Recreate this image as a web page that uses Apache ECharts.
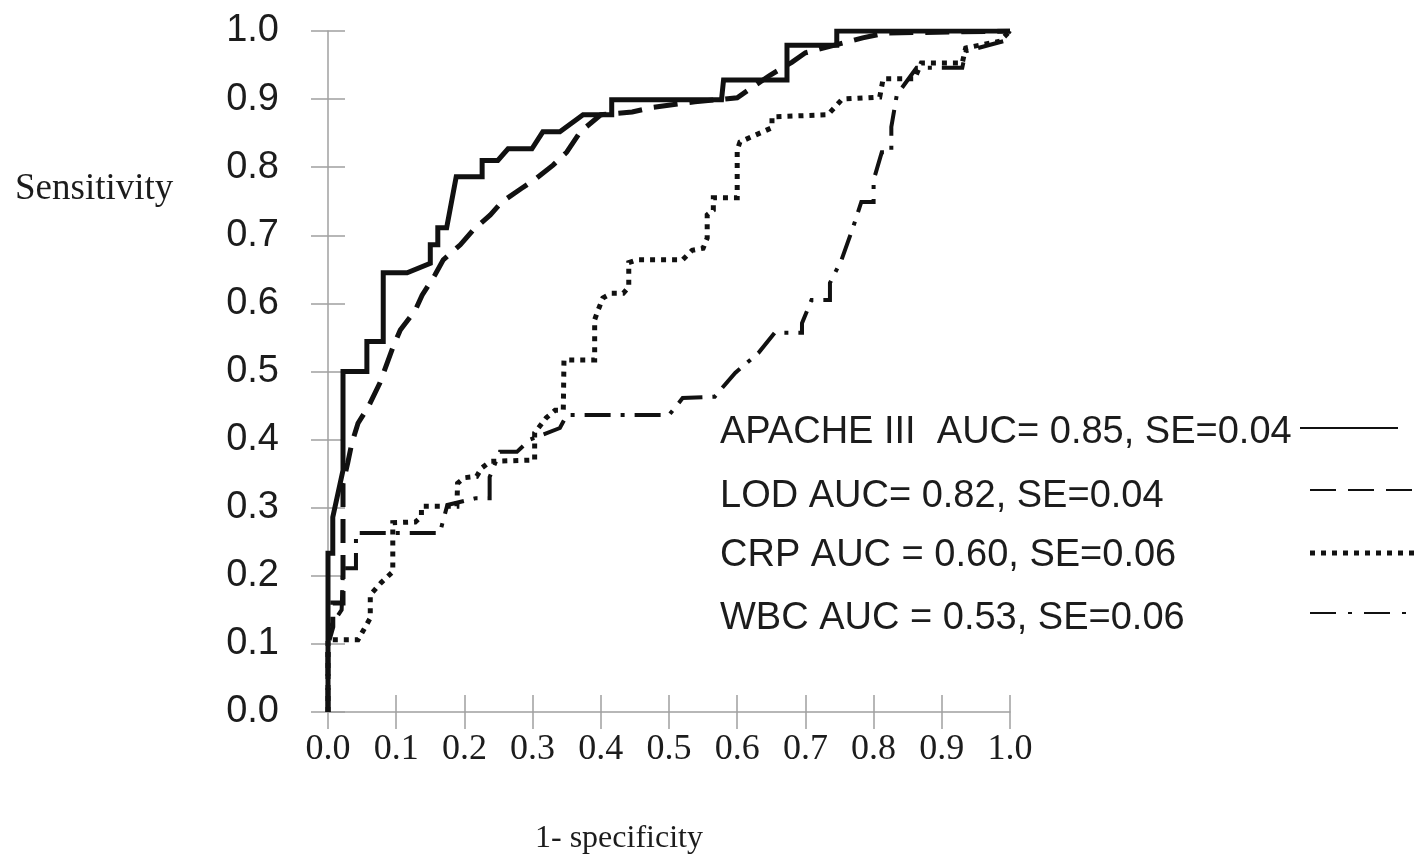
<!DOCTYPE html>
<html lang="en">
<head>
    <meta charset="UTF-8">
    <title>ROC curves</title>
    <script src="https://cdn.jsdelivr.net/npm/echarts@6/dist/echarts.min.js"></script>
    <style>
        html, body {margin: 0; padding: 0; background: #fff;}
        #chart {width: 1414px; height: 859px;}
    </style>
</head>
<body>
<div id="chart"></div>
<script>
    // axis ticks
    var xTicks = ['0.0', '0.1', '0.2', '0.3', '0.4', '0.5', '0.6', '0.7', '0.8', '0.9', '1.0'];
    var yTicks = ['0.0', '0.1', '0.2', '0.3', '0.4', '0.5', '0.6', '0.7', '0.8', '0.9', '1.0'];

    // legend texts
    var names = [
        'APACHE III  AUC= 0.85, SE=0.04',
        'LOD AUC= 0.82, SE=0.04',
        'CRP AUC = 0.60, SE=0.06',
        'WBC AUC = 0.53, SE=0.06'
    ];

    // [1-specificity, sensitivity]
    var apache = [
        [0, 0], [0, 0.233], [0.007, 0.233], [0.007, 0.286], [0.022, 0.355], [0.022, 0.50],
        [0.057, 0.50], [0.057, 0.544], [0.081, 0.544], [0.081, 0.645], [0.116, 0.645],
        [0.150, 0.659], [0.150, 0.686], [0.161, 0.686], [0.161, 0.711], [0.174, 0.711],
        [0.188, 0.786], [0.226, 0.786], [0.226, 0.81], [0.249, 0.81], [0.264, 0.827],
        [0.299, 0.827], [0.315, 0.852], [0.340, 0.852], [0.374, 0.877], [0.416, 0.877],
        [0.416, 0.899], [0.577, 0.899], [0.58, 0.928], [0.673, 0.928], [0.673, 0.979],
        [0.746, 0.979], [0.746, 1.0], [1, 1]
    ];
    var lod = [
        [0, 0], [0, 0.1], [0.007, 0.125], [0.007, 0.16], [0.022, 0.16], [0.022, 0.336],
        [0.029, 0.366], [0.035, 0.395], [0.044, 0.424], [0.059, 0.448], [0.076, 0.483],
        [0.095, 0.535], [0.106, 0.561], [0.128, 0.59], [0.138, 0.612], [0.157, 0.642],
        [0.169, 0.664], [0.194, 0.686], [0.213, 0.708], [0.238, 0.73], [0.255, 0.749],
        [0.284, 0.769], [0.306, 0.784], [0.33, 0.803], [0.35, 0.822], [0.37, 0.852],
        [0.40, 0.877], [0.446, 0.881], [0.477, 0.888], [0.538, 0.896], [0.60, 0.902],
        [0.623, 0.918], [0.648, 0.935], [0.68, 0.954], [0.70, 0.968], [0.784, 0.99],
        [0.817, 0.997], [1, 1]
    ];
    var crp = [
        [0, 0], [0, 0.106], [0.044, 0.106], [0.062, 0.138], [0.062, 0.172], [0.078, 0.19],
        [0.095, 0.206], [0.095, 0.278], [0.128, 0.279], [0.137, 0.287], [0.137, 0.302],
        [0.189, 0.302], [0.19, 0.336], [0.2, 0.344], [0.218, 0.346], [0.225, 0.358],
        [0.238, 0.368], [0.303, 0.37], [0.303, 0.41], [0.32, 0.432], [0.333, 0.443],
        [0.345, 0.443], [0.346, 0.517], [0.391, 0.517], [0.391, 0.576], [0.396, 0.59],
        [0.403, 0.608], [0.416, 0.615], [0.433, 0.615], [0.441, 0.624], [0.441, 0.66],
        [0.453, 0.664], [0.52, 0.664], [0.534, 0.678], [0.55, 0.681], [0.556, 0.696],
        [0.556, 0.73], [0.565, 0.737], [0.565, 0.755], [0.60, 0.755], [0.60, 0.825],
        [0.604, 0.837], [0.651, 0.858], [0.651, 0.874], [0.733, 0.877], [0.743, 0.888],
        [0.754, 0.90], [0.809, 0.903], [0.814, 0.93], [0.86, 0.93], [0.87, 0.953],
        [0.93, 0.953], [0.935, 0.975], [0.985, 0.985], [1, 1]
    ];
    var wbc = [
        [0, 0], [0, 0.12], [0.02, 0.15], [0.022, 0.211], [0.041, 0.211], [0.041, 0.263],
        [0.164, 0.263], [0.175, 0.304], [0.217, 0.314], [0.237, 0.314], [0.237, 0.345],
        [0.252, 0.382], [0.277, 0.382], [0.296, 0.40], [0.34, 0.417], [0.35, 0.436],
        [0.50, 0.436], [0.52, 0.461], [0.567, 0.463], [0.597, 0.498], [0.631, 0.527],
        [0.655, 0.557], [0.695, 0.557], [0.695, 0.571], [0.709, 0.605], [0.736, 0.605],
        [0.736, 0.63], [0.753, 0.664], [0.77, 0.712], [0.782, 0.749], [0.80, 0.749],
        [0.80, 0.781], [0.812, 0.822], [0.826, 0.822], [0.826, 0.859], [0.834, 0.906],
        [0.863, 0.946], [0.93, 0.946], [0.935, 0.97], [0.99, 0.985], [1, 1]
    ];

    var ink = '#111';
    var axisGray = '#a0a0a0';
    var styles = [
        {type: 'solid', width: 5},
        {type: [24, 12], width: 5},
        {type: [5, 6], width: 5},
        {type: [26, 10, 4, 10], width: 4}
    ];

    function valueAxis(ticks, isX, inner) {
        return {
            type: 'value',
            min: 0,
            max: 1,
            interval: 0.1,
            position: isX ? 'bottom' : 'left',
            axisLine: {show: !inner, lineStyle: {color: axisGray, width: 1.5}},
            axisTick: {show: true, inside: inner, length: 17, lineStyle: {color: axisGray, width: 1.5}},
            splitLine: {show: false},
            axisLabel: inner ? {show: false} : {
                show: true,
                margin: isX ? 20 : 49,
                color: '#1c1c1c',
                fontFamily: isX ? 'Liberation Serif' : 'Liberation Sans',
                fontSize: isX ? 36 : 38,
                formatter: function (v) {
                    return ticks[Math.round(v * 10)];
                }
            }
        };
    }

    var series = [apache, lod, crp, wbc].map(function (d, i) {
        return {
            name: names[i],
            type: 'line',
            xAxisIndex: 0,
            yAxisIndex: 0,
            data: d,
            showSymbol: false,
            animation: false,
            silent: true,
            lineStyle: {color: ink, width: styles[i].width, type: styles[i].type, cap: 'butt', join: 'miter'},
            z: 10 - i
        };
    });

    // legend: text on the left, line sample on the right
    var legendY = [433, 497, 556, 619];
    var sampleY = [428, 490, 553, 613];
    var sampleX = [[1300, 1398], [1310, 1414], [1310, 1414], [1310, 1414]];
    var sampleStyle = [
        {lineWidth: 2, lineDash: null},
        {lineWidth: 2, lineDash: [26, 12]},
        {lineWidth: 5, lineDash: [5, 6]},
        {lineWidth: 2, lineDash: [26, 12, 4, 12]}
    ];
    var graphic = [
        {type: 'text', left: 15, top: 171, style: {text: 'Sensitivity', fill: '#1c1c1c', font: '37px "Liberation Serif"'}},
        {type: 'text', left: 535, top: 823, style: {text: '1- specificity', fill: '#1c1c1c', font: '32px "Liberation Serif"'}}
    ];
    names.forEach(function (n, i) {
        graphic.push({
            type: 'text', x: 720, y: legendY[i],
            style: {text: n, fill: '#1c1c1c', font: '38px "Liberation Sans"', textVerticalAlign: 'middle'}
        });
        graphic.push({
            type: 'line',
            shape: {x1: sampleX[i][0], y1: sampleY[i], x2: sampleX[i][1], y2: sampleY[i]},
            style: {stroke: ink, lineWidth: sampleStyle[i].lineWidth, lineDash: sampleStyle[i].lineDash}
        });
    });

    var myChart = echarts.init(document.getElementById('chart'));
    myChart.setOption({
        backgroundColor: '#fff',
        animation: false,
        grid: {left: 328, right: 404, top: 31, bottom: 147},
        xAxis: [valueAxis(xTicks, true, false), valueAxis(xTicks, true, true)],
        yAxis: [valueAxis(yTicks, false, false), valueAxis(yTicks, false, true)],
        series: series,
        graphic: graphic
    });
</script>
</body>
</html>
